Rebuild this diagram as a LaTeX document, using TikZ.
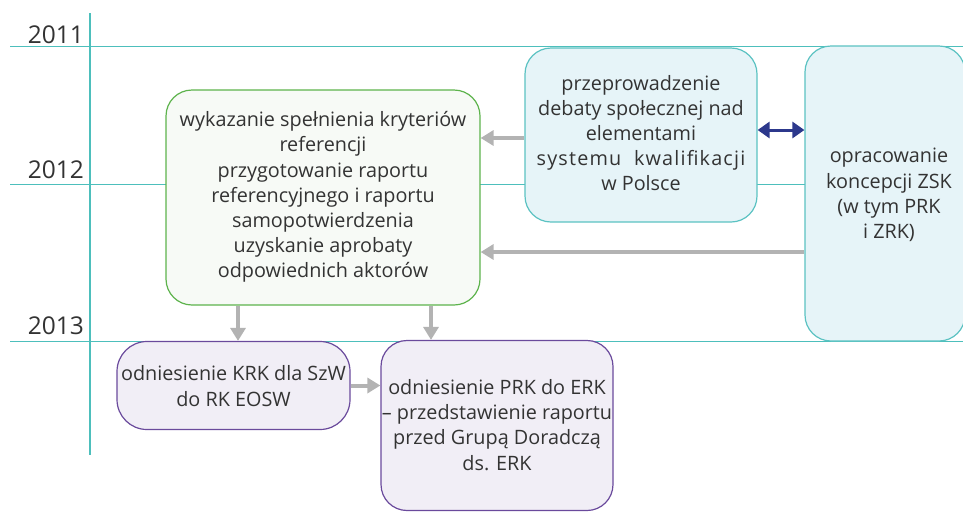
\documentclass[tikz,border=0pt]{standalone}
\usepackage{fontspec}
\setmainfont{Open Sans}
\usetikzlibrary{arrows.meta,calc}
\definecolor{teal1}{HTML}{4DBFBC}
\definecolor{txt}{HTML}{333333}
\definecolor{greenln}{HTML}{5DB34C}
\definecolor{greenbg}{HTML}{F7FAF6}
\definecolor{bluebg}{HTML}{E6F4F8}
\definecolor{blueln}{HTML}{5BC2C2}
\definecolor{purpln}{HTML}{6A4A9C}
\definecolor{purpbg}{HTML}{F1EEF6}
\definecolor{grayar}{HTML}{B3B3B3}
\definecolor{navy}{HTML}{2C388C}
\begin{document}
\begin{tikzpicture}[x=1pt,y=-1pt,
  every node/.style={text=txt,font=\fontsize{19.8}{25.2}\selectfont,align=center,inner sep=0pt},
  stage/.style={rounded corners=26pt,line width=1.2pt},
  greenbox/.style={stage,draw=greenln,fill=greenbg},
  bluebox/.style={stage,draw=blueln,fill=bluebg},
  purpbox/.style={stage,draw=purpln,fill=purpbg},
  yearline/.style={teal1,line width=0.9pt},
  yearlabel/.style={anchor=base east,font=\fontsize{24.5}{28}\selectfont},
  flow/.style={grayar,line width=4pt,-{Triangle[length=13pt,width=15pt]}},
  link/.style={navy,line width=3pt,{Triangle[length=12pt,width=16pt]}-{Triangle[length=12pt,width=16pt]}}]
\useasboundingbox (0,0) rectangle (963,512);
% time axis
\draw[yearline] (10,46) -- (963,46);
\draw[yearline] (10,184) -- (963,184);
\draw[yearline] (10,341) -- (963,341);
\draw[teal1,line width=2.6pt] (90,13) -- (90,455);
\node[yearlabel] (y11) at (84,43) {2011};
\node[yearlabel] (y12) at (84,178) {2012};
\node[yearlabel] (y13) at (84,334) {2013};
% stages
\node[greenbox,minimum width=314pt,minimum height=215pt] (green) at (323,197.5) {};
\node (greent) at (323,197) {wykazanie spełnienia kryteriów\\referencji\\przygotowanie raportu\\referencyjnego i raportu\\samopotwierdzenia\\uzyskanie aprobaty\\odpowiednich aktorów};
\node[bluebox,minimum width=232pt,minimum height=174pt] (blue1) at (641,135) {};
\node (blue1t) at (641,133) {przeprowadzenie\\debaty społecznej nad\\elementami\\{\addfontfeature{LetterSpace=6}systemu\ \ kwalifikacji}\\w Polsce};
\node[bluebox,minimum width=160pt,minimum height=295pt] (blue2) at (885,193.5) {};
\node (blue2t) at (889,195) {opracowanie\\koncepcji ZSK\\(w tym PRK\\i ZRK)};
\node[purpbox,minimum width=233pt,minimum height=88pt,rounded corners=30pt] (purp1) at (233.5,385.5) {};
\node (purp1t) at (233.5,386) {odniesienie KRK dla SzW\\do RK EOSW};
\node[purpbox,minimum width=232pt,minimum height=170pt] (purp2) at (497,425.5) {};
\node (purp2t) at (497,425) {odniesienie PRK do ERK\\– przedstawienie raportu\\przed Grupą Doradczą\\ds. ERK};
% connectors
\draw[flow] ([yshift=-3pt]blue1.west) -- ([yshift=-3pt]blue1.west -| green.east);
\draw[flow] ([yshift=-58.5pt]blue2.west) -- ([yshift=-58.5pt]blue2.west -| green.east);
\draw[link] ([yshift=5pt]blue1.east) -- ([yshift=5pt]blue1.east -| blue2.west);
\draw[flow] ([xshift=-85pt]green.south) -- ([xshift=-85pt]green.south |- purp1.north);
\draw[flow] ([xshift=108pt]green.south) -- ([xshift=108pt]green.south |- purp2.north);
\draw[flow] (purp1.east) -- (purp1.east -| purp2.west);
\end{tikzpicture}
\end{document}
